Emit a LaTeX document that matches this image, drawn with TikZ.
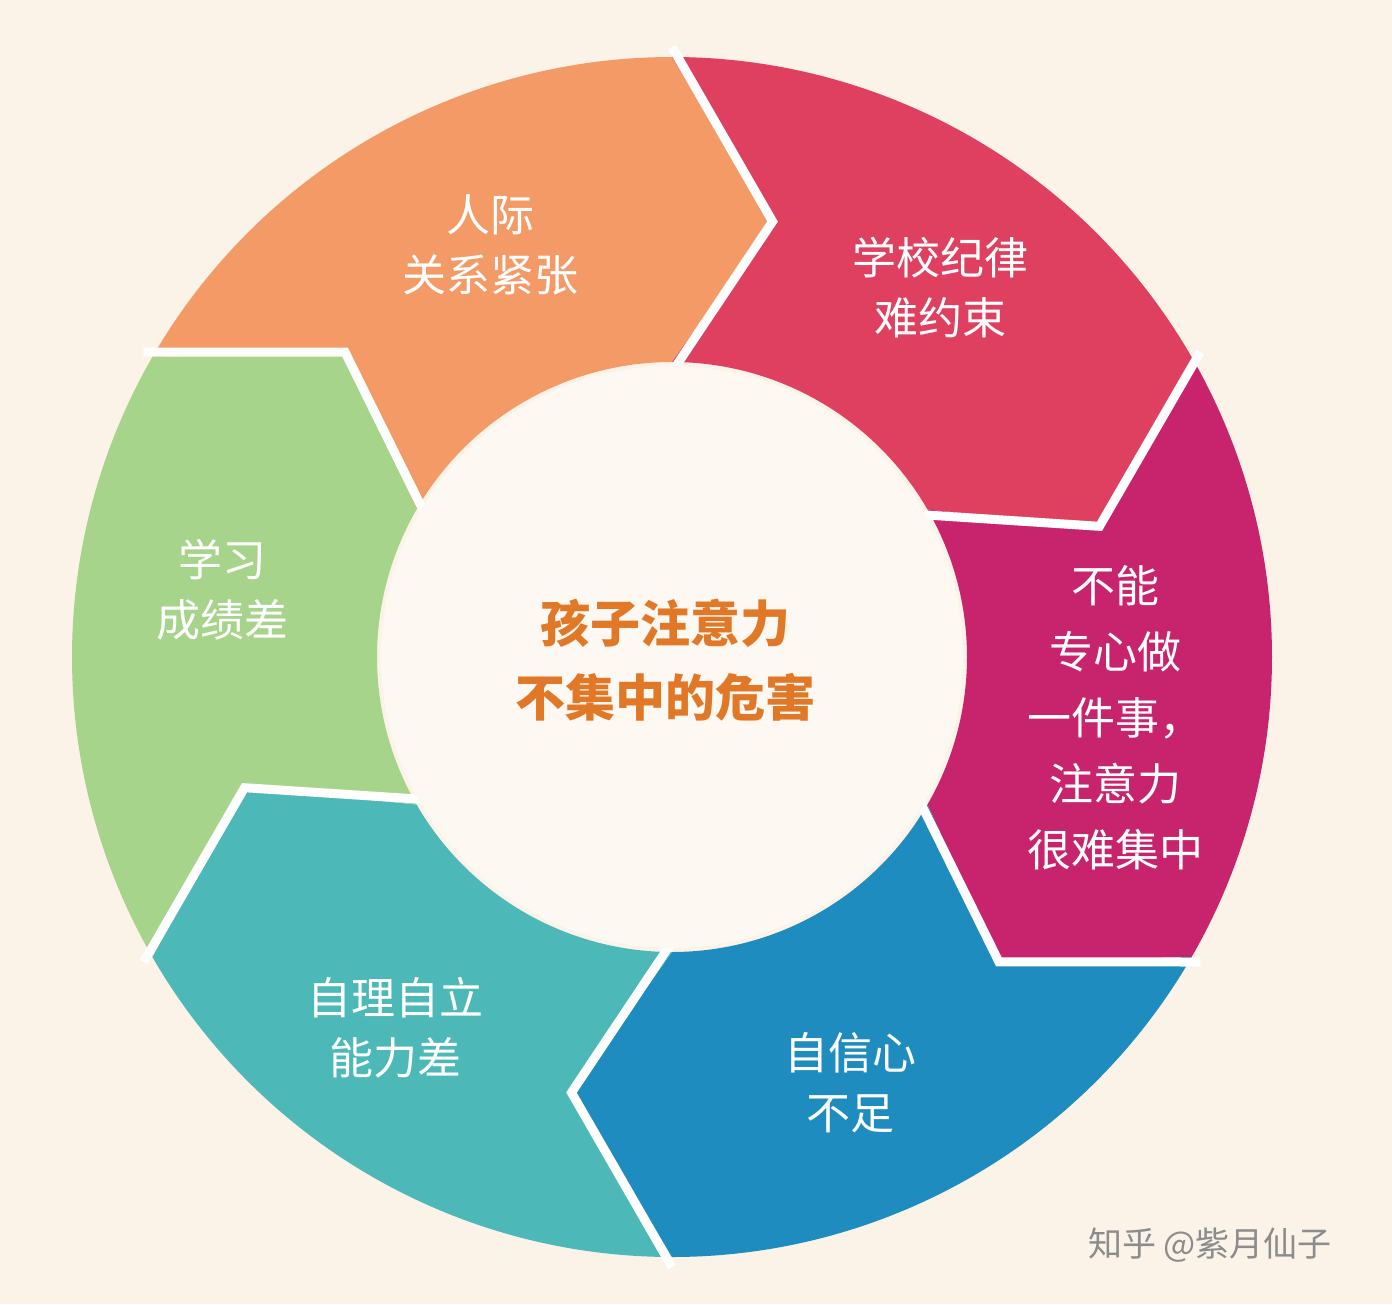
\documentclass[tikz,border=0pt]{standalone}
\usepackage{fontspec}
\setmainfont{Noto Sans CJK SC}
\usetikzlibrary{calc}
\begin{document}
\begin{tikzpicture}[x=1pt,y=-1pt,
  lbl/.style={text=white,font=\fontsize{44}{60}\selectfont,align=center},
  sep/.style={draw=white,line width=9pt,line join=miter}]
\definecolor{bg}{HTML}{FBF3E8}
\definecolor{cOr}{HTML}{F49A66}
\definecolor{cRd}{HTML}{E0405F}
\definecolor{cMg}{HTML}{C8246E}
\definecolor{cBl}{HTML}{1E8CBF}
\definecolor{cTl}{HTML}{4DB8B8}
\definecolor{cGr}{HTML}{A6D48A}
\fill[bg] (0,0) rectangle (1392,1304);
\useasboundingbox (0,0) rectangle (1392,1304);
\coordinate (c) at (672,657);
\def\Ro{600}\def\Ri{295}\def\Rm{447}
\foreach \A/\B/\col in {150/90/cOr,90/30/cRd,30/-30/cMg,-30/-90/cBl,-90/-150/cTl,-150/-210/cGr}{
  \fill[\col] ($(c)+(-\A:\Ro)$) arc[start angle=-\A,end angle=-\B,radius=\Ro]
    -- ($(c)+(-\B+13:\Rm)$) -- ($(c)+(-\B:\Ri)$)
    arc[start angle=-\B,end angle=-\A,radius=\Ri]
    -- ($(c)+(-\A+13:\Rm)$) -- cycle;
}
\foreach \B in {90,30,-30,-90,-150,-210}{
  \draw[sep] ($(c)+(-\B:\Ro+10)$) -- ($(c)+(-\B+13:\Rm)$) -- ($(c)+(-\B:\Ri-10)$);
}
\fill[bg!60!white] (c) circle[radius=\Ri-4];
\node[lbl] (t1) at (490,245) {人际\\关系紧张};
\node[lbl] (t2) at (940,288) {学校纪律\\难约束};
\node[lbl,font=\fontsize{44}{66}\selectfont] (t3) at (1115,718) {不能\\专心做\\一件事，\\注意力\\很难集中};
\node[lbl] (t4) at (850,1083) {自信心\\不足};
\node[lbl] (t5) at (395,1028) {自理自立\\能力差};
\node[lbl] (t6) at (222,590) {学习\\成绩差};
\node[text={rgb,255:red,224;green,120;blue,40},font=\bfseries\fontsize{50}{74}\selectfont,align=center] (ct) at (665,660) {孩子注意力\\不集中的危害};
\node[text=black!45,font=\fontsize{34}{40}\selectfont] (wm) at (1210,1245) {知乎 @紫月仙子};
\end{tikzpicture}
\end{document}
